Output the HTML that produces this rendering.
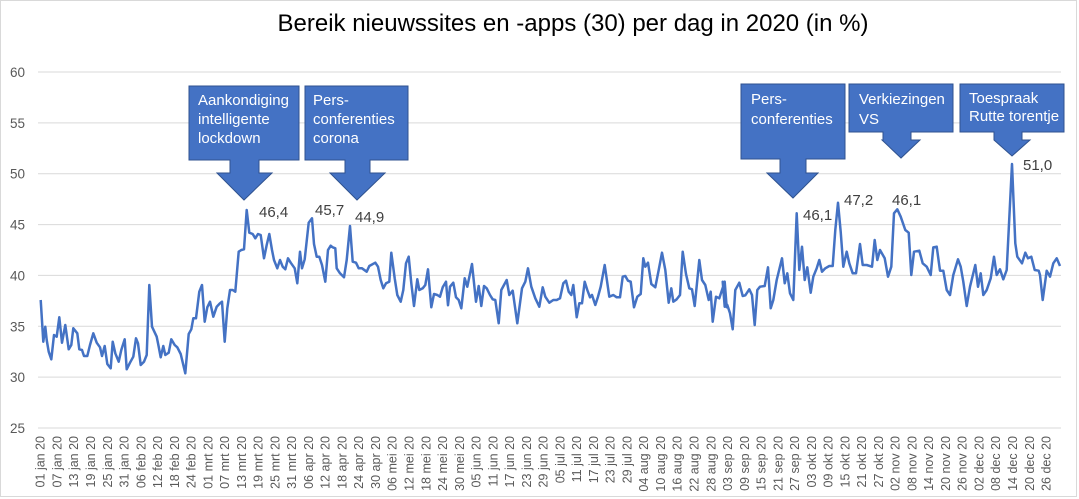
<!DOCTYPE html>
<html><head><meta charset="utf-8"><style>
html,body{margin:0;padding:0;background:#fff;}
svg{display:block;font-family:"Liberation Sans",sans-serif;}
</style></head><body>
<svg id="s" width="1079" height="499" viewBox="0 0 1079 499" xmlns="http://www.w3.org/2000/svg">
<rect x="0.5" y="0.5" width="1076" height="496" fill="#fff" stroke="#d9d9d9"/>
<text x="573" y="31" font-size="24" text-anchor="middle" fill="#000">Bereik nieuwssites en -apps (30) per dag in 2020 (in %)</text>
<g id="grid"></g>
<g id="xl"></g>
<polyline id="line" fill="none" stroke="#4472c4" stroke-width="2.5" stroke-linejoin="round"/>
<g fill="#4472c4" stroke="#2f528f" stroke-width="1">
<path d="M189,86H299V160H259V173H272L244,200L217,173H230V160H189Z"/>
<path d="M305,86H408V160H370V173H385L357,200L330,173H345V160H305Z"/>
<path d="M741,84H845V159H806V173H818L793,198L767,173H780V159H741Z"/>
<path d="M849,84H953V132H911V140H920L901,158L882,140H883V132H849Z"/>
<path d="M960,84H1064V132H1022V140H1030L1012,156L994,140H994V132H960Z"/>
</g>
<g fill="#fff" font-size="15">
<text x="198" y="105">Aankondiging</text><text x="198" y="124">intelligente</text><text x="198" y="143">lockdown</text>
<text x="313" y="105">Pers-</text><text x="313" y="124">conferenties</text><text x="313" y="143">corona</text>
<text x="751" y="104">Pers-</text><text x="751" y="124">conferenties</text>
<text x="859" y="104">Verkiezingen</text><text x="859" y="124">VS</text>
<text x="969" y="103">Toespraak</text><text x="969" y="121">Rutte torentje</text>
</g>
<g fill="#404040" font-size="15">
<text x="259" y="217">46,4</text><text x="315" y="215">45,7</text><text x="355" y="222">44,9</text>
<text x="803" y="220">46,1</text><text x="844" y="205">47,2</text><text x="892" y="205">46,1</text><text x="1023" y="170">51,0</text>
</g>
</svg>
<script>
var NS="http://www.w3.org/2000/svg";
function el(t,a,txt){var e=document.createElementNS(NS,t);for(var k in a)e.setAttribute(k,a[k]);if(txt)e.textContent=txt;return e;}
var g=document.getElementById('grid');
for(var v=25;v<=60;v+=5){var y=428-(v-25)*356/35;
g.appendChild(el('line',{x1:38,x2:1061,y1:y,y2:y,stroke:'#d9d9d9','stroke-width':1}));
g.appendChild(el('text',{x:25,y:y+5,'font-size':13.5,'text-anchor':'end',fill:'#595959'},String(v)));}
var mon=['jan','feb','mrt','apr','mei','jun','jul','aug','sep','okt','nov','dec'];
var xl=document.getElementById('xl');
for(var d=0;d<=360;d+=6){var dt=new Date(2020,0,1+d);var dd=('0'+dt.getDate()).slice(-2);
var x=40.7+d*2.794+4;
xl.appendChild(el('text',{x:0,y:0,'font-size':12.5,'text-anchor':'end',fill:'#595959',transform:'translate('+x+',436) rotate(-90)'},dd+' '+mon[dt.getMonth()]+' 20'));}
var z1=[122,720,130,845,136,800,140,840,146,875,154,898,162,825,170,830,178,772,186,848,196,795,206,868,214,855,220,805,232,820,238,868,246,870,252,888,262,888,270,855,280,820,290,848,300,862,306,888,314,858,322,912,332,925,338,845,346,880,356,905,364,870,374,838,380,928,390,908,400,890,408,835,414,850,422,915,432,905,440,885,448,675,456,800,470,830,476,860,482,892,490,858,496,885,506,878,514,838,524,855,532,862,542,882,556,940,566,822,574,808,580,775,588,775,598,695,606,675,614,785,622,742,630,725,640,770,650,740,660,730,666,725,674,845,682,745,690,690,698,690,706,695,716,575,724,570,732,568,740,450,748,518,758,522,766,535,774,522,782,525,792,595,800,555,808,522,816,570,822,600,832,625,840,600,848,620,856,628,864,595,872,608,884,625,892,670,900,575,906,625,914,598,926,488,936,475,942,552,950,590,958,590,966,615,976,665,984,570,992,557,998,562,1006,565,1010,625,1020,640,1032,652,1040,600,1050,498];
var z3=[0,78,8,185,18,188,26,205,36,205,50,215,58,198,76,188,84,200,92,240,100,265,108,250,118,245,124,158,134,235,142,285,152,305,160,270,168,190,176,170,184,250,192,318,202,238,208,270,218,265,226,255,234,208,244,322,252,282,262,285,270,290,278,262,288,245,294,316,300,260,310,248,318,292,326,300,334,325,344,235,352,260,366,192,378,305,386,258,394,318,402,258,410,265,420,285,428,298,436,300,446,370,454,270,470,240,478,285,488,272,502,370,516,265,526,245,534,205,544,260,556,295,568,320,578,262,586,290,598,308,610,300,620,300,630,295,640,250,648,242,656,275,664,285,670,255,680,352,688,310,696,310,704,245,712,270,720,292,726,285,736,315,744,290,752,260,764,195,778,290,790,285,800,292,810,292,818,230,826,228,834,242,842,245,852,322,862,290,872,282,880,175,886,200,894,188,904,252,916,262,926,210,936,158,946,210,956,308,964,265,970,305,980,298,990,285,998,155,1008,222,1018,265,1026,268,1034,318,1048,180,1056,240,1066,255,1076,300,1082,275,1088,365,1098,290,1108,295,1124,245,1130,322];
var z2=[8,665,14,740,22,735,30,760,38,808,46,690,58,668,68,708,76,706,88,688,96,705,104,795,112,690,120,680,134,678,144,622,152,745,160,720,170,660,186,595,194,670,202,640,210,700,220,720,230,460,238,630,246,560,254,660,262,622,272,698,280,650,290,625,298,600,306,635,316,625,328,618,338,618,346,510,354,428,362,515,370,620,380,575,388,610,398,640,408,640,420,552,428,615,440,615,456,620,464,540,472,600,480,570,494,595,504,650,514,620,522,460,532,448,542,470,556,510,566,518,574,645,582,575,598,572,608,610,620,620,632,645,640,562,650,560,660,632,670,632,680,690,690,705,700,645,714,598,722,620,730,665,740,738,750,680,766,615,774,680,782,640,790,705,800,690,812,655,822,590,830,645,840,628,850,658,860,630,876,312,886,550,892,590,906,610,916,578,924,595,934,590,944,630,956,632,960,645,968,720,980,632,990,650,1000,610,1010,595,1020,618];
var pts=[];
for(var i=0;i<z1.length;i+=2)pts.push((z1[i]/3).toFixed(1)+','+(60+z1[i+1]/3).toFixed(1));
for(var i=2;i<z3.length;i+=2)pts.push((350+z3[i]/3).toFixed(1)+','+(200+z3[i+1]/3).toFixed(1));
for(var i=0;i<z2.length;i+=2)pts.push((720+z2[i]/3).toFixed(1)+','+(60+z2[i+1]/3).toFixed(1));
document.getElementById('line').setAttribute('points',pts.join(' '));
</script>
</body></html>
